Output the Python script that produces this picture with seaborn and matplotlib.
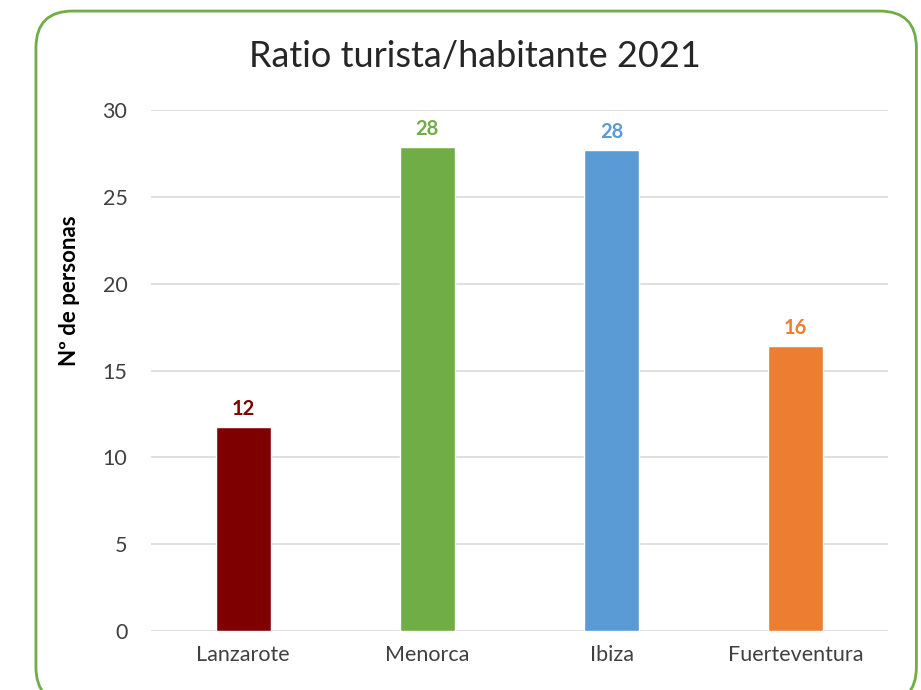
import matplotlib
matplotlib.use("Agg")
import matplotlib.pyplot as plt
import seaborn as sns
import pandas as pd
from matplotlib.patches import FancyBboxPatch

islas = ["Lanzarote", "Menorca", "Ibiza", "Fuerteventura"]
ratio = [11.75, 27.85, 27.7, 16.4]
colores = ["#7F0000", "#70AD47", "#5B9BD5", "#ED7D31"]

df = pd.DataFrame({"isla": islas, "ratio": ratio})

sns.set_theme(style="white")
plt.rcParams["font.family"] = ["Lato", "DejaVu Sans"]

fig = plt.figure(figsize=(9.21, 6.9), dpi=100)
ax = fig.add_axes([0.164, 0.0855, 0.8, 0.755])

sns.barplot(data=df, x="isla", y="ratio", hue="isla", palette=colores,
            width=0.3, legend=False, ax=ax, saturation=1)

ax.set_ylim(0, 30)
ax.set_yticks(range(0, 31, 5))
ax.yaxis.grid(True, color="#D9D9D9", linewidth=1.2)
ax.set_axisbelow(True)
for s in ax.spines.values():
    s.set_visible(False)
ax.tick_params(axis="both", length=0, labelsize=15.5, colors="#404040")
ax.tick_params(axis="y", pad=17)
ax.tick_params(axis="x", pad=10)
ax.set_xlabel("")
ax.set_ylabel("")

# titulo del eje y (como en Excel, algo desplazado hacia arriba)
fig.text(0.076, 0.578, "Nº de personas", rotation=90, ha="center", va="center",
         fontsize=16, fontweight="bold", color="black")

for cont, col in zip(ax.containers, colores):
    ax.bar_label(cont, labels=[f"{v:.0f}" for v in cont.datavalues], padding=6,
                 fontsize=14.5, fontweight="bold", color=col)

fig.text(0.516, 0.918, "Ratio turista/habitante 2021", ha="center", va="center",
         fontsize=26, color="#262626")

box = FancyBboxPatch((0.039, -0.02), 0.956, 1.004,
                     boxstyle="round,pad=0,rounding_size=0.04",
                     transform=fig.transFigure, fill=False,
                     edgecolor="#70AD47", linewidth=2, clip_on=False,
                     mutation_aspect=921 / 690)
fig.patches.append(box)

fig.savefig("out.png", dpi=100)
